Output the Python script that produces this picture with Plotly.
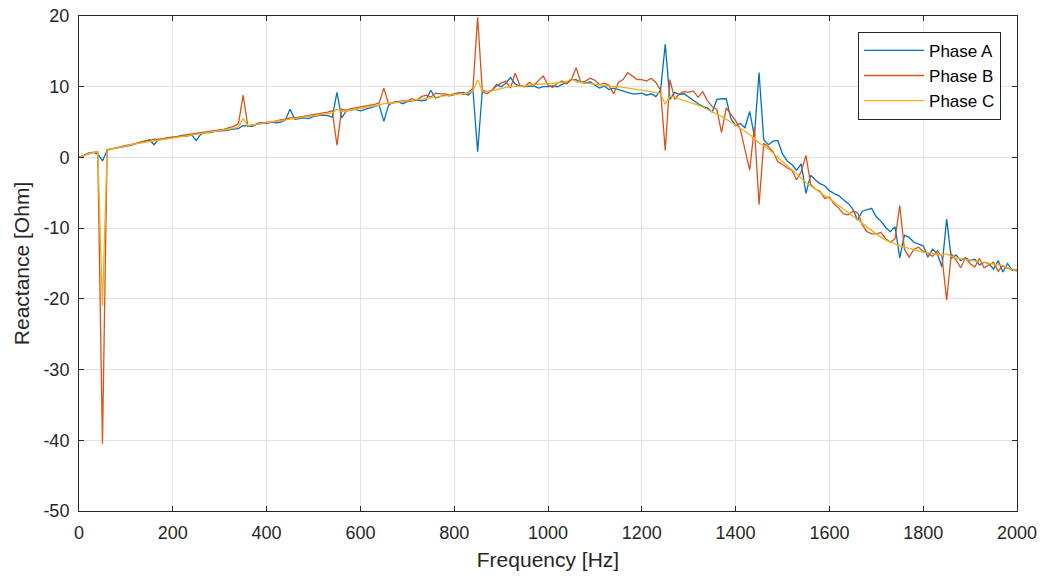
import plotly.graph_objects as go

freq = list(range(0, 2001, 10))

phase_a = [
    0, 0.3, 0.6, 0.7, 0.5, -0.5, 1.0, 1.2, 1.3, 1.4,
    1.6, 1.7, 1.9, 2.1, 2.3, 2.5, 1.8, 2.6, 2.6, 2.8,
    2.8, 2.9, 3.1, 3.0, 3.2, 2.4, 3.3, 3.5, 3.5, 3.7,
    3.7, 3.8, 3.9, 4.0, 4.1, 4.5, 4.5, 4.4, 4.8, 4.9,
    4.8, 5.0, 4.9, 5.0, 5.3, 6.8, 5.4, 5.5, 5.6, 5.5,
    5.8, 5.9, 6.0, 5.9, 5.7, 9.2, 5.6, 6.6, 6.7, 6.8,
    6.6, 6.8, 7.0, 7.3, 7.4, 5.1, 7.4, 7.8, 7.9, 7.6,
    7.9, 8.0, 8.1, 8.0, 8.1, 9.5, 8.4, 8.6, 8.8, 8.7,
    8.9, 9.0, 9.2, 8.8, 9.5, 0.8, 9.5, 9.3, 9.4, 10.3,
    10.0, 10.5, 11.3, 10.4, 10.1, 10.0, 10.0, 10.1, 9.8, 10.0,
    10.0, 10.1, 10.0, 10.3, 10.6, 11.0, 11.0, 10.6, 10.5, 10.7,
    10.2, 9.8, 10.1, 9.6, 9.8, 9.6, 9.5, 9.2, 9.0, 9.0,
    9.1, 8.8, 9.0, 8.6, 9.5, 16.0, 8.2, 9.2, 8.9, 9.0,
    8.5, 8.0, 7.6, 7.2, 7.0, 6.4, 8.2, 8.3, 8.3, 5.5,
    4.5, 4.8, 4.2, 6.5, 3.0, 12.0, 2.5, 1.8, 2.3, 2.4,
    0.5, -0.5, -1.0, -1.8, -0.9, -5.1, -2.5, -3.2, -3.7, -4.0,
    -4.7, -5.1, -5.4, -6.0, -6.5, -7.3, -8.9, -7.6, -7.4, -7.2,
    -8.4, -9.0, -9.9, -10.5, -9.8, -14.2, -11.0, -11.3, -12.0, -12.2,
    -12.5, -14.1, -13.0, -13.6, -15.5, -8.7, -14.3, -13.8, -14.6, -14.2,
    -14.6, -14.4, -15.2, -14.8, -15.0, -15.8, -14.6, -16.2, -15.0, -16.0,
    -15.9,
]

phase_b = [
    0, 0.3, 0.5, 0.7, 0.8, -40.5, 1.1, 1.2, 1.4, 1.5,
    1.7, 1.8, 2.0, 2.1, 2.3, 2.4, 2.6, 2.5, 2.7, 2.8,
    2.9, 2.9, 3.1, 3.2, 3.3, 3.3, 3.5, 3.6, 3.7, 3.8,
    3.9, 4.0, 4.2, 4.4, 4.8, 8.8, 4.4, 4.6, 4.7, 4.8,
    5.0, 5.0, 5.2, 5.3, 5.4, 5.6, 5.6, 5.7, 5.8, 5.9,
    6.0, 6.1, 6.3, 6.4, 6.6, 1.7, 6.8, 6.7, 6.9, 7.0,
    7.1, 7.3, 7.4, 7.5, 7.7, 9.8, 7.6, 7.8, 7.9, 8.0,
    8.0, 8.3, 8.1, 8.6, 8.8, 8.5, 9.1, 9.0, 9.0, 8.8,
    9.0, 9.2, 8.9, 9.2, 9.8, 19.8, 9.3, 9.0, 9.5, 10.1,
    10.5, 10.8, 9.8, 11.9, 10.2, 10.0, 10.6, 10.2, 10.9, 11.5,
    10.2, 9.9, 10.5, 10.8, 10.4, 11.0, 12.7, 10.6, 10.8, 11.2,
    10.9, 10.3, 10.5, 10.2, 9.0, 10.6, 11.0, 12.0, 11.5, 11.0,
    11.0, 10.8, 11.2, 10.6, 9.5, 1.0, 11.0, 8.2, 9.0, 9.3,
    9.2, 9.4, 8.5, 9.3, 8.0, 7.2, 6.8, 3.5, 7.0, 6.1,
    5.2, 4.0, 1.0, -1.8, 4.3, -6.7, 2.0, 1.5, 0.8, -0.6,
    -1.0, -1.5, -1.8, -3.2, -2.0, 0.3, -3.8, -4.5, -4.8, -5.8,
    -5.6, -6.6, -7.2, -8.0, -8.1, -7.6, -7.8, -9.5, -10.5, -10.8,
    -10.8, -10.6, -11.5, -12.0, -11.5, -6.8, -13.0, -14.1, -13.0, -12.7,
    -13.3, -13.5, -14.0, -13.2, -14.0, -20.2, -13.6, -14.5, -15.6, -14.2,
    -15.0, -15.5, -14.3, -15.6, -15.2, -14.8, -16.1, -15.3, -15.7, -15.8,
    -16.0,
]

phase_c = [
    0, 0.3, 0.5, 0.7, 0.8, -21.0, 1.0, 1.2, 1.3, 1.5,
    1.6, 1.8, 1.9, 2.0, 2.2, 2.3, 2.4, 2.5, 2.6, 2.7,
    2.8, 2.9, 3.0, 3.1, 3.2, 3.3, 3.4, 3.5, 3.6, 3.7,
    3.8, 3.9, 4.0, 4.1, 4.3, 5.5, 4.5, 4.6, 4.7, 4.8,
    4.9, 5.0, 5.1, 5.2, 5.3, 5.4, 5.5, 5.6, 5.7, 5.8,
    5.9, 6.0, 6.1, 6.2, 6.3, 6.8, 6.5, 6.6, 6.7, 6.8,
    7.0, 7.1, 7.2, 7.3, 7.4, 7.6, 7.6, 7.7, 7.8, 7.9,
    8.0, 8.1, 8.2, 8.3, 8.4, 8.5, 8.6, 8.7, 8.8, 8.8,
    8.9, 9.0, 9.0, 9.1, 9.4, 11.0, 9.4, 9.3, 9.4, 9.6,
    9.8, 9.9, 10.0, 10.0, 10.1, 10.1, 10.2, 10.3, 10.3, 10.4,
    10.4, 10.5, 10.5, 10.6, 10.7, 11.2, 10.7, 10.6, 10.5, 10.4,
    10.3, 10.2, 10.2, 10.1, 10.0, 10.0, 9.9, 9.8, 9.8, 9.7,
    9.6, 9.5, 9.4, 9.2, 9.0, 7.5, 8.7, 8.5, 8.3, 8.1,
    7.9, 7.7, 7.4, 7.1, 6.8, 6.5, 6.2, 5.8, 5.4, 5.0,
    4.6, 4.2, 3.7, 3.2, 2.7, 2.0, 1.7, 1.2, 0.6, 0.0,
    -0.6, -1.2, -1.8, -2.4, -3.0, -3.5, -4.0, -4.5, -5.0, -5.4,
    -5.8, -6.3, -6.8, -7.3, -7.8, -8.3, -8.9, -9.4, -9.9, -10.4,
    -10.9, -11.3, -11.7, -12.0, -12.3, -12.5, -12.7, -12.9, -13.1, -13.3,
    -13.4, -13.5, -13.6, -13.7, -13.8, -13.6, -14.0, -14.2, -14.3, -14.4,
    -14.5, -14.6, -14.7, -14.8, -14.9, -15.0, -15.1, -15.3, -15.6, -15.9,
    -16.1,
]

series_names = ["Phase A", "Phase B", "Phase C"]
series_colors = ["#0072BD", "#D95319", "#EDB120"]

x_ticks = list(range(0, 2001, 200))
x_ticktext = [str(v) for v in x_ticks]
y_ticks = list(range(-50, 21, 10))
y_ticktext = [str(v) for v in y_ticks]

fig = go.Figure()
for name, vals, col in zip(series_names, [phase_a, phase_b, phase_c], series_colors):
    fig.add_trace(go.Scatter(x=freq, y=vals, mode="lines", name=name,
                             legendgroup=name,
                             line=dict(color=col, width=1.3)))

font_family = "Liberation Sans, Arial, sans-serif"
axis_common = dict(
    showgrid=True, gridcolor="#e3e3e3", gridwidth=1,
    showline=True, linecolor="#262626", linewidth=1, mirror="ticks",
    ticks="inside", ticklen=5, tickcolor="#262626",
    zeroline=False, ticklabeloverflow="allow",
    tickfont=dict(family=font_family, size=18, color="#262626"),
)

fig.update_layout(
    width=1044, height=577,
    margin=dict(l=79, r=27, t=16, b=66, autoexpand=False),
    paper_bgcolor="white", plot_bgcolor="white",
    font=dict(family=font_family, color="#262626"),
    showlegend=True,
    legend=dict(x=0.983, y=0.968, xanchor="right", yanchor="top",
                bgcolor="white", bordercolor="#262626", borderwidth=1,
                font=dict(family=font_family, size=17, color="#000000"),
                tracegroupgap=0, itemwidth=60),
    xaxis=dict(range=[0, 2000], tickvals=x_ticks, ticktext=x_ticktext,
               ticklabelstandoff=5,
               title=dict(text="Frequency [Hz]", font=dict(size=21, family=font_family, color="#262626"), standoff=10),
               **axis_common),
    yaxis=dict(range=[-50, 20], tickvals=y_ticks, ticktext=y_ticktext,
               ticklabelstandoff=5,
               title=dict(text="Reactance [Ohm]", font=dict(size=21, family=font_family, color="#262626"), standoff=8),
               **axis_common),
)

fig.write_html(
    "out.html",
    config={"displayModeBar": False},
    post_script="document.body.style.margin='0';document.body.style.overflow='hidden';",
)
